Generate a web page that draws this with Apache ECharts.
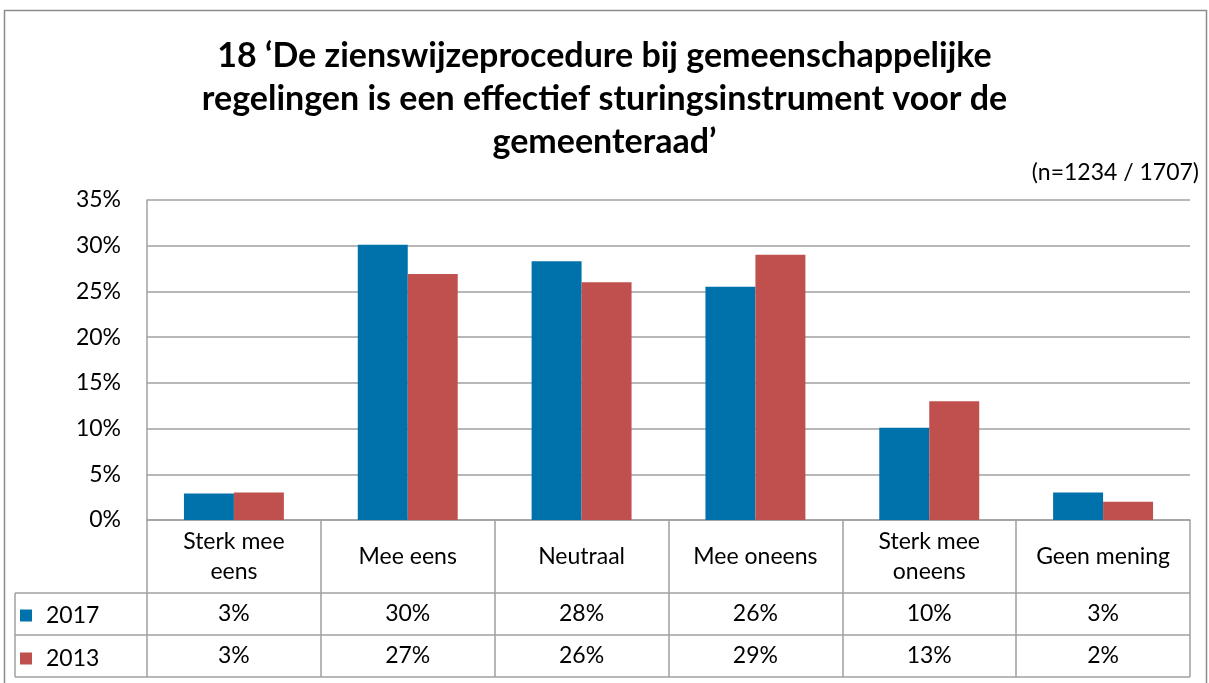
<!DOCTYPE html>
<html>
<head>
<meta charset="utf-8">
<script src="https://cdn.jsdelivr.net/npm/echarts@6/dist/echarts.min.js"></script>
<style>html,body{margin:0;padding:0;background:#fff}#c{width:1209px;height:683px}</style>
</head>
<body>
<div id="c"></div>
<script>
const titleText = "18 ‘De zienswijzeprocedure bij gemeenschappelijke\nregelingen is een effectief sturingsinstrument voor de\ngemeenteraad’";
const subtitleText = "(n=1234 / 1707)";
const categories = ['Sterk mee\neens', 'Mee eens', 'Neutraal', 'Mee oneens', 'Sterk mee\noneens', 'Geen mening'];
const seriesNames = ['2017', '2013'];
const values2017 = [2.9, 30.1, 28.3, 25.5, 10.1, 3.0];
const values2013 = [3.0, 26.9, 26.0, 29.0, 13.0, 2.0];
const table2017 = ['3%', '30%', '28%', '26%', '10%', '3%'];
const table2013 = ['3%', '27%', '26%', '29%', '13%', '2%'];
const yMin = 0, yMax = 35, yStep = 5;

const FONT = 'Lato';
const FS = 23;
const GRID = '#a0a0a0';
const colors = ['#0072AB', '#C0504D'];
const chart = echarts.init(document.getElementById('c'), null, {renderer: 'canvas'});

const gridLeft = 147, gridRight = 1190, gridTop = 200, gridBottom = 520;
const rowY = [593, 635, 677];
const tableLeft = 15;

const hiddenAxis = (data, margin) => ({
  type: 'category', data: data, position: 'bottom', gridIndex: 0,
  axisLine: {show: false}, axisTick: {show: false}, splitLine: {show: false},
  axisLabel: {interval: 0, margin: margin, verticalAlign: 'middle', fontFamily: FONT, fontSize: FS, color: '#000'}
});

chart.setOption({
  animation: false,
  title: {
    text: titleText, left: 'center', top: 30, padding: [5, 5, 5, 25],
    textStyle: {fontFamily: FONT, fontWeight: 'bold', fontSize: 34, lineHeight: 43, color: '#000'}
  },
  legend: {
    data: seriesNames, orient: 'vertical', left: 15, top: 599,
    icon: 'rect', itemWidth: 12, itemHeight: 12, itemGap: 20,
    textStyle: {fontFamily: FONT, fontSize: FS, color: '#000', lineHeight: 22, padding: [0, 0, 0, 9]}
  },
  grid: {left: gridLeft, right: 1209 - gridRight, top: gridTop, bottom: 683 - gridBottom, containLabel: false},
  xAxis: [
    {
      type: 'category', data: categories, position: 'bottom',
      axisLine: {show: true, lineStyle: {color: GRID, width: 1.5}},
      axisTick: {show: true, interval: 0, length: rowY[2] - gridBottom, lineStyle: {color: GRID, width: 1.5}},
      axisLabel: {interval: 0, margin: 37, verticalAlign: 'middle', fontFamily: FONT, fontSize: FS, lineHeight: 30, color: '#000'}
    },
    hiddenAxis(table2017, 614 - gridBottom),
    hiddenAxis(table2013, 656 - gridBottom)
  ],
  yAxis: {
    type: 'value', min: yMin, max: yMax, interval: yStep,
    axisLine: {show: true, lineStyle: {color: GRID, width: 1.5}},
    axisTick: {show: false},
    splitLine: {show: true, lineStyle: {color: GRID, width: 1.5}},
    axisLabel: {formatter: '{value}%', margin: 26, fontFamily: FONT, fontSize: FS, color: '#000'}
  },
  series: [
    {name: seriesNames[0], type: 'bar', data: values2017, itemStyle: {color: colors[0]}, barGap: '0%', barCategoryGap: '42.5%', xAxisIndex: 0},
    {name: seriesNames[1], type: 'bar', data: values2013, itemStyle: {color: colors[1]}, barGap: '0%', barCategoryGap: '42.5%', xAxisIndex: 0}
  ],
  graphic: [
    {type: 'rect', shape: {x: 4.5, y: 10.5, width: 1202, height: 700}, style: {fill: 'none', stroke: '#8c8c8c', lineWidth: 1.5}, silent: true},
    {type: 'text', x: 1199, y: 173, style: {text: subtitleText, align: 'right', verticalAlign: 'middle', fontFamily: FONT, fontSize: FS, fill: '#000'}},
    {type: 'line', shape: {x1: tableLeft, y1: rowY[0], x2: gridRight, y2: rowY[0]}, style: {stroke: GRID, lineWidth: 1.5}},
    {type: 'line', shape: {x1: tableLeft, y1: rowY[1], x2: gridRight, y2: rowY[1]}, style: {stroke: GRID, lineWidth: 1.5}},
    {type: 'line', shape: {x1: tableLeft, y1: rowY[2], x2: gridRight, y2: rowY[2]}, style: {stroke: GRID, lineWidth: 1.5}},
    {type: 'line', shape: {x1: tableLeft, y1: rowY[0], x2: tableLeft, y2: rowY[2]}, style: {stroke: GRID, lineWidth: 1.5}}
  ]
});
</script>
</body>
</html>
